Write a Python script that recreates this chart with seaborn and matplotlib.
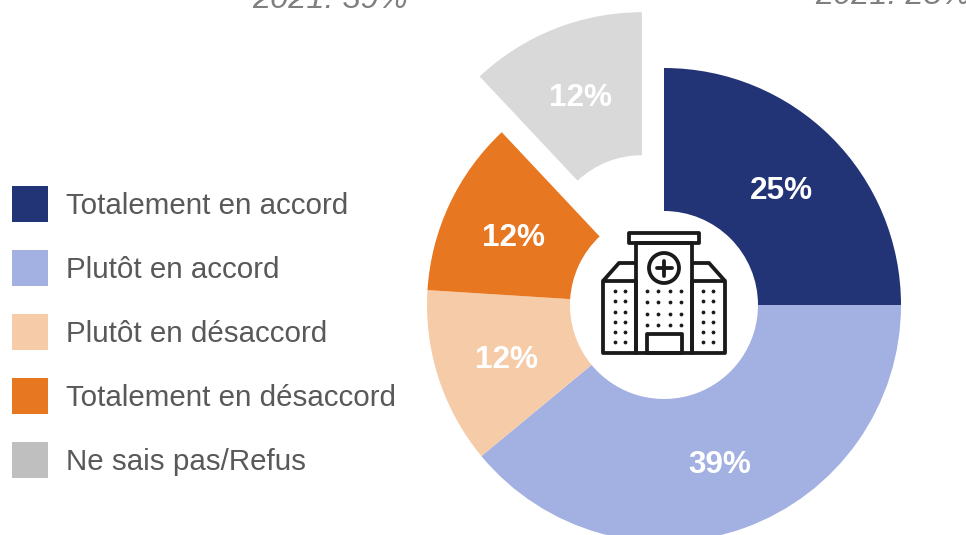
"""Hospital survey donut with icon in the hole. Axes are in pixels, y is negated."""
import matplotlib
matplotlib.use("Agg")
import matplotlib.pyplot as plt
import seaborn as sns
from matplotlib.patches import Circle, Patch, Polygon, Rectangle

CATEGORIES = [
    "Totalement en accord",
    "Plutôt en accord",
    "Plutôt en désaccord",
    "Totalement en désaccord",
    "Ne sais pas/Refus",
]
VALUES = [25, 39, 12, 12, 12]
SLICE_COLORS = ["#223376", "#A3B0E2", "#F6CBA8", "#E87722", "#D9D9D9"]
LEGEND_COLORS = ["#223376", "#A3B0E2", "#F6CBA8", "#E87722", "#BFBFBF"]
EXPLODE = [0, 0, 0, 0, 60]
NOTES = ["2021: 39%", "2021: 25%"]

ICON = "#1A1A1A"
PT = 72 / 100  # px -> pt at dpi 100


def draw_icon(ax):
    lw = 3.8 * PT
    style = dict(fill=False, ec=ICON, lw=lw, joinstyle="round")
    ax.add_patch(Rectangle((603, -353), 33, 72, **style))
    ax.add_patch(Rectangle((692, -353), 33, 72, **style))
    ax.add_patch(Rectangle((636, -353), 56, 110, **style))
    ax.add_patch(Rectangle((629, -243), 70, 10, **style))
    ax.add_patch(Rectangle((647, -353), 35, 19, **style))
    ax.add_patch(Polygon([(603, -281), (619, -263), (636, -263)], closed=False, **style))
    ax.add_patch(Polygon([(725, -281), (709, -263), (692, -263)], closed=False, **style))
    ax.add_patch(Circle((664, -268), 15, **style))
    ax.plot([656.5, 671.5], [-268, -268], color=ICON, lw=lw, solid_capstyle="round")
    ax.plot([664, 664], [-275.5, -260.5], color=ICON, lw=lw, solid_capstyle="round")

    dots = dict(ls="none", marker="o", ms=3.8 * PT, color=ICON, mew=0)
    for x in [647.3, 658.3, 669.7, 680.7]:
        for y in [291, 302.3, 313.7, 324.7]:
            ax.plot(x, -y, **dots)
    for x in [614.7, 625.3, 702.7, 713.3]:
        for y in [291, 301.3, 311.7, 321.7, 332, 342]:
            ax.plot(x, -y, **dots)


sns.set_theme(style="white")
plt.rcParams["font.family"] = ["Liberation Sans", "DejaVu Sans"]

fig = plt.figure(figsize=(9.66, 5.35), dpi=100)
ax = fig.add_axes([0, 0, 1, 1])

wedges, _, autotexts = ax.pie(
    VALUES,
    colors=SLICE_COLORS,
    explode=EXPLODE,
    center=(664, -305),
    radius=237,
    startangle=90,
    counterclock=False,
    autopct="%.0f%%",
    pctdistance=0.7,
    wedgeprops={"width": 143, "linewidth": 0},
    textprops={"color": "white", "fontweight": "bold", "fontsize": 31.5 * PT},
    frame=True,
)
# labels sit a little lower than the pie's own placement
for t in autotexts:
    t.set_y(t.get_position()[1] - 3.5)

ax.set_xlim(0, 966)
ax.set_ylim(-535, 0)
ax.set_aspect("equal")
ax.axis("off")

draw_icon(ax)

ax.text(330, -8, NOTES[0], ha="center", va="baseline", style="italic",
        color="#7F7F7F", fontsize=32.5 * PT)
ax.text(815, -4, NOTES[1], ha="left", va="baseline", style="italic",
        color="#7F7F7F", fontsize=32.5 * PT)

handles = [Patch(color=c, lw=0) for c in LEGEND_COLORS]
ax.legend(
    handles,
    CATEGORIES,
    loc="center left",
    bbox_to_anchor=(12 / 966, 1 - 332 / 535),
    frameon=False,
    borderaxespad=0,
    borderpad=0,
    fontsize=29.5 * PT,
    labelcolor="#595959",
    handlelength=1.22,
    handleheight=1.5,
    handletextpad=0.6,
    labelspacing=0.95,
)

fig.savefig("out.png", dpi=100)
